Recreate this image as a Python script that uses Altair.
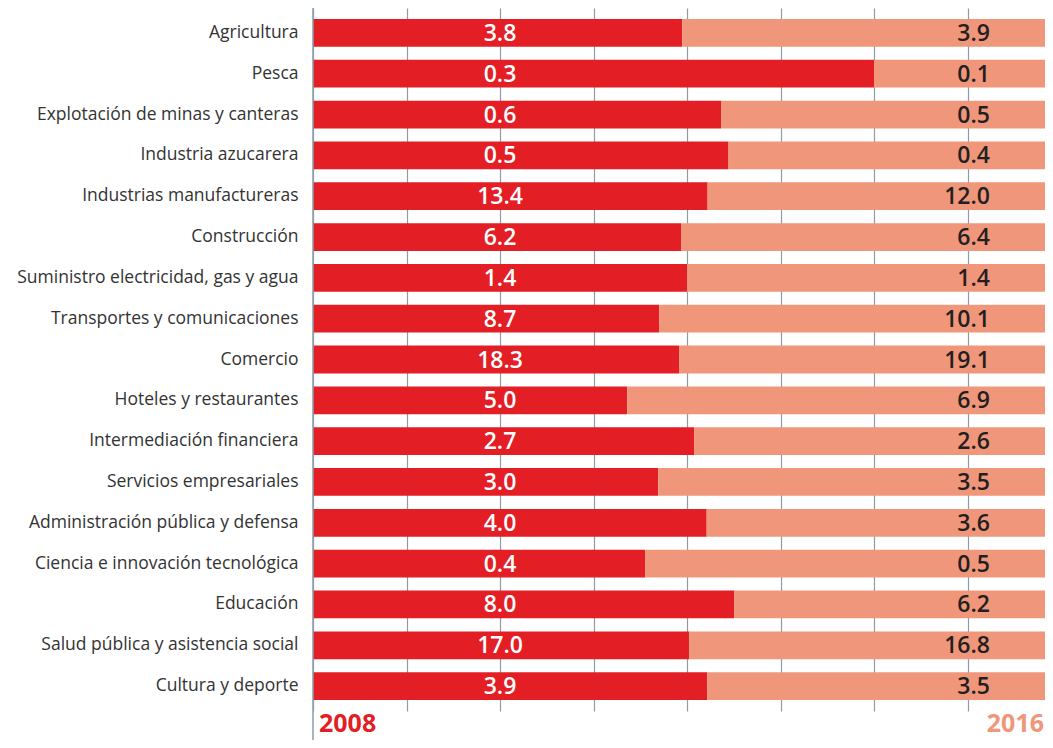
import altair as alt
import pandas as pd

categories = [
    "Agricultura",
    "Pesca",
    "Explotación de minas y canteras",
    "Industria azucarera",
    "Industrias manufactureras",
    "Construcción",
    "Suministro electricidad, gas y agua",
    "Transportes  y comunicaciones",
    "Comercio",
    "Hoteles y restaurantes",
    "Intermediación financiera",
    "Servicios empresariales",
    "Administración pública y defensa",
    "Ciencia e innovación tecnológica",
    "Educación",
    "Salud pública y asistencia social",
    "Cultura y deporte",
]
v2008 = [3.8, 0.3, 0.6, 0.5, 13.4, 6.2, 1.4, 8.7, 18.3, 5.0, 2.7, 3.0, 4.0, 0.4, 8.0, 17.0, 3.9]
v2016 = [3.9, 0.1, 0.5, 0.4, 12.0, 6.4, 1.4, 10.1, 19.1, 6.9, 2.6, 3.5, 3.6, 0.5, 6.2, 16.8, 3.5]
years = ["2008", "2016"]
colors = ["#E31E24", "#F0967A"]
grid_vals = [0, 0.125, 0.25, 0.375, 0.5, 0.625, 0.75, 0.875]

rows = []
for c, a, b in zip(categories, v2008, v2016):
    rows.append({"sector": c, "year": "2008", "value": a, "ord": 0})
    rows.append({"sector": c, "year": "2016", "value": b, "ord": 1})
df = pd.DataFrame(rows)
wide = pd.DataFrame({"sector": categories, "v2008": v2008, "v2016": v2016})
yr = pd.DataFrame({"year": years})

W, H = 732, 703
FONT = "Open Sans"

yenc = alt.Y(
    "sector:N",
    sort=categories,
    scale=alt.Scale(paddingInner=0.32, paddingOuter=0.27),
    axis=alt.Axis(title=None, ticks=False, domain=False, labelFont=FONT,
                  labelFontSize=17.5, labelColor="#333333", labelPadding=15,
                  labelLimit=400),
)
xscale = alt.Scale(domain=[0, 732 / 748], nice=False)

bars = alt.Chart(df).mark_bar(clip=True).encode(
    x=alt.X("value:Q", stack="normalize", scale=xscale,
            axis=alt.Axis(values=grid_vals, grid=True, labels=False, ticks=False,
                          domain=False, title=None, gridColor="#8D9CA8",
                          gridWidth=1.2)),
    y=yenc,
    color=alt.Color("year:N", scale=alt.Scale(domain=years, range=colors), legend=None),
    order=alt.Order("ord:Q", sort="ascending"),
)

t2008 = alt.Chart(wide).mark_text(font=FONT, fontSize=23, fontWeight=600, color="white",
                                  baseline="middle", align="center", dy=1).encode(
    x=alt.datum(0.25),
    y=yenc,
    text=alt.Text("v2008:Q", format=".1f"),
)

t2016 = alt.Chart(wide).mark_text(font=FONT, fontSize=23, fontWeight=600, color="#231F20",
                                  baseline="middle", align="right", dy=1).encode(
    x=alt.datum(0.905),
    y=yenc,
    text=alt.Text("v2016:Q", format=".1f"),
)

left_rule = alt.Chart(yr.head(1)).mark_rule(color="#8D9CA8", strokeWidth=1.5).encode(
    x=alt.value(0), y=alt.value(0), y2=alt.value(H + 40)
)

lab2008 = alt.Chart(yr.head(1)).mark_text(font=FONT, fontSize=25, fontWeight="bold",
                                          color=colors[0], align="left",
                                          baseline="middle").encode(
    x=alt.value(6), y=alt.value(H + 13), text="year:N"
)
lab2016 = alt.Chart(yr.tail(1)).mark_text(font=FONT, fontSize=25, fontWeight="bold",
                                          color=colors[1], align="right",
                                          baseline="middle").encode(
    x=alt.value(W - 1), y=alt.value(H + 13), text="year:N"
)

chart = alt.layer(bars, t2008, t2016, left_rule, lab2008, lab2016).properties(
    width=W, height=H,
    padding={"left": 305, "top": 0, "right": 0, "bottom": 29},
    autosize=alt.AutoSizeParams(type="none"),
).configure_view(stroke=None)

chart.save("out.html", embed_options={"renderer": "svg", "actions": False})
